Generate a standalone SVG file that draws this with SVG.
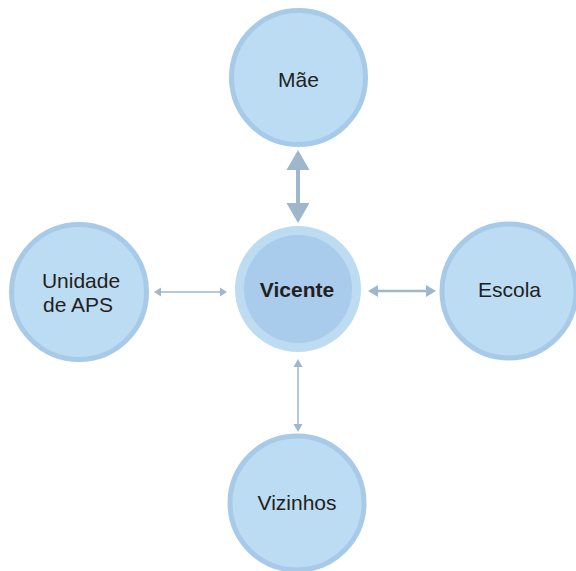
<svg xmlns="http://www.w3.org/2000/svg" width="576" height="571" viewBox="0 0 576 571">
<style>
.node{fill:#bcdcf4;stroke:#a8cae9;stroke-width:5}
.ring{fill:#bddcf2}
.core{fill:#a9cbec}
.lbl{font-family:"Liberation Sans",Arial,sans-serif;font-size:21px;fill:#231f20;text-anchor:middle}
.bold{font-weight:bold}
.ln{stroke:#9fb7cc;fill:none}
.hd{fill:#9fb7cc}
</style>
<rect width="576" height="571" fill="#ffffff"/>
<g id="connectors">
<line class="ln" x1="298" y1="165" x2="298" y2="208" stroke-width="4"/>
<polygon class="hd" points="298,150 309.5,170 286.5,170"/>
<polygon class="hd" points="298,223 309.5,203 286.5,203"/>
<line class="ln" x1="376" y1="291" x2="428" y2="291" stroke-width="2.5"/>
<polygon class="hd" points="368,291 378,285 378,297"/>
<polygon class="hd" points="436,291 426,285 426,297"/>
<line class="ln" x1="159" y1="292" x2="222" y2="292" stroke-width="1.5"/>
<polygon class="hd" points="154,292 161,287.5 161,296.5"/>
<polygon class="hd" points="227,292 220,287.5 220,296.5"/>
<line class="ln" x1="298" y1="364" x2="298" y2="427" stroke-width="1.5"/>
<polygon class="hd" points="298,359 302.5,367 293.5,367"/>
<polygon class="hd" points="298,432 302.5,424 293.5,424"/>
</g>
<g id="mae">
<circle class="node" cx="298.5" cy="77.5" r="67"/>
<text class="lbl" x="298.5" y="87">Mãe</text>
</g>
<g id="vicente">
<circle class="ring" cx="298" cy="289" r="63"/>
<circle class="core" cx="298" cy="289" r="54"/>
<text class="lbl bold" x="297" y="297">Vicente</text>
</g>
<g id="unidade">
<circle class="node" cx="79" cy="292" r="67.5"/>
<text class="lbl" x="81" y="288">Unidade</text>
<text class="lbl" x="78" y="312">de APS</text>
</g>
<g id="escola">
<circle class="node" cx="509" cy="291" r="67"/>
<text class="lbl" x="509.5" y="297">Escola</text>
</g>
<g id="vizinhos">
<circle class="node" cx="297" cy="503" r="67"/>
<text class="lbl" x="297" y="510">Vizinhos</text>
</g>
</svg>
